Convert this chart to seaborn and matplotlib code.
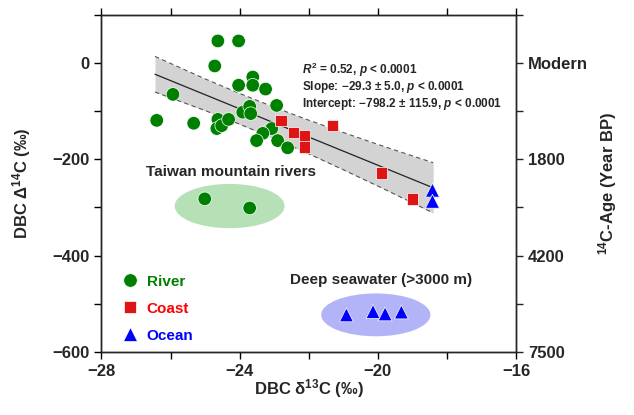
import numpy as np
import pandas as pd
import matplotlib
matplotlib.use("Agg")
import matplotlib.pyplot as plt
from matplotlib.patches import Ellipse
import seaborn as sns

# ---------------- data ----------------
river_x = [-24.63, -24.03, -24.72, -25.93, -23.62, -24.03, -23.62, -23.25, -22.93,
           -26.40, -25.33, -24.63, -24.66, -24.52, -24.32, -23.91, -23.71, -23.68,
           -23.07, -23.33, -23.51, -22.90, -22.61, -25.01, -23.71]
river_y = [46, 46, -6, -65, -29, -46, -46, -54, -88,
           -119, -125, -117, -136, -130, -117, -102, -90, -105,
           -136, -146, -161, -161, -176, -282, -301]
coast_x = [-22.81, -22.44, -22.12, -22.12, -21.31, -19.89, -19.00]
coast_y = [-119, -144, -151, -174, -130, -228, -282]
ocean_x = [-18.42, -18.42, -20.91, -20.14, -19.79, -19.32]
ocean_y = [-264, -287, -523, -516, -521, -517]

# regression statistics (as annotated) and confidence band
slope, intercept = -29.3, -798.2
fit_x = [-26.45, -18.4]
band_x = [-26.45, -25, -24, -23, -22, -21, -20, -19, -18.4]
band_upper = [13.8, -32.8, -63.1, -91.7, -118.6, -144.2, -168.9, -192.8, -206.9]
band_lower = [-60.2, -98.6, -126.9, -156.9, -188.6, -221.6, -255.5, -290.2, -311.3]

# group ellipses (center x, center y, width, height)
river_ell = (-24.29, -297, 3.18, 92)
ocean_ell = (-20.06, -523, 3.16, 89)

# ticks
x_major = [-28, -24, -20, -16]
x_minor = [-26, -22, -18]
y_major = [-600, -400, -200, 0]
y_minor = [-500, -300, -100, 100]
age_labels = ["7500", "4200", "1800", "Modern"]

groups = ["River", "Coast", "Ocean"]
colors = {"River": "#008000", "Coast": "#dd1515", "Ocean": "#0000ff"}
text_colors = {"River": "#008000", "Coast": "#ff0000", "Ocean": "#0000ff"}

stats_text = ("$R^2$ = 0.52, $p$ < 0.0001\n"
              "Slope: −29.3 ± 5.0, $p$ < 0.0001\n"
              "Intercept: −798.2 ± 115.9, $p$ < 0.0001")

df = pd.DataFrame({
    "x": river_x + coast_x + ocean_x,
    "y": river_y + coast_y + ocean_y,
    "group": ["River"] * len(river_x) + ["Coast"] * len(coast_x) + ["Ocean"] * len(ocean_x),
})

# ---------------- style ----------------
sns.set_style("ticks")
plt.rcParams["font.family"] = ["Liberation Sans", "DejaVu Sans"]
plt.rcParams["font.weight"] = "bold"
plt.rcParams["mathtext.fontset"] = "custom"
plt.rcParams["mathtext.rm"] = "Liberation Sans:bold"
plt.rcParams["mathtext.it"] = "Liberation Sans:italic:bold"
plt.rcParams["mathtext.bf"] = "Liberation Sans:bold"
plt.rcParams["axes.unicode_minus"] = True

fig = plt.figure(figsize=(6.34, 4.15), dpi=100)
ax = fig.add_axes([0.160, 0.152, 0.654, 0.812])

# ellipses
for (cx, cy, w, h), fc in [(river_ell, "#b6e0b6"), (ocean_ell, "#b3b3f7")]:
    ax.add_patch(Ellipse((cx, cy), w, h, facecolor=fc, edgecolor="none", zorder=1))

# confidence band and regression line
ax.fill_between(band_x, band_lower, band_upper, color="#d3d3d3", zorder=1.5, lw=0)
ax.plot(band_x, band_upper, ls=(0, (4, 3)), color="#555555", lw=0.8, zorder=1.6)
ax.plot(band_x, band_lower, ls=(0, (4, 3)), color="#555555", lw=0.8, zorder=1.6)
fx = np.array(fit_x)
ax.plot(fx, intercept + slope * fx, color="#222222", lw=0.9, zorder=1.7)

# points
sns.scatterplot(data=df, x="x", y="y", hue="group", style="group",
                hue_order=groups, style_order=groups, palette=colors,
                markers={"River": "o", "Coast": "s", "Ocean": "^"},
                size="group", sizes={"River": 95, "Coast": 70, "Ocean": 100},
                edgecolor="white", linewidth=0.5, ax=ax, zorder=3, legend=True)

# legend
handles, labels = ax.get_legend_handles_labels()
hmap = dict(zip(labels, handles))
leg = ax.legend([hmap[g] for g in groups], groups, loc="lower left",
                bbox_to_anchor=(0.01, 0.0), frameon=False, fontsize=11,
                handletextpad=0.1, labelspacing=0.85, borderaxespad=0.2)
for txt, g in zip(leg.get_texts(), groups):
    txt.set_color(text_colors[g])
    txt.set_fontweight("bold")

# annotations (one multi-line text block)
ax.text(-22.2, -48, stats_text, fontsize=8.5, fontweight="bold", ha="left",
        va="center", linespacing=1.05)
ax.text(-24.25, -226, "Taiwan mountain rivers", fontsize=11, fontweight="bold",
        ha="center", va="center")
ax.text(-19.92, -450, "Deep seawater (>3000 m)", fontsize=11, fontweight="bold",
        ha="center", va="center")

# axes
ax.set_xlim(-28, -16)
ax.set_ylim(-600, 100)
ax.set_xticks(x_major)
ax.set_xticks(x_minor, minor=True)
ax.set_yticks(y_major)
ax.set_yticks(y_minor, minor=True)
ax.tick_params(which="both", direction="out", length=5, width=1, color="black",
               labelsize=12, top=True, bottom=True, left=True, right=False)
for lab in ax.get_xticklabels() + ax.get_yticklabels():
    lab.set_fontweight("bold")
ax.set_xlabel("DBC δ$^{13}$C (‰)", fontsize=12, fontweight="bold", labelpad=-1)
ax.set_ylabel("DBC Δ$^{14}$C (‰)", fontsize=12, fontweight="bold", labelpad=14)
for s in ax.spines.values():
    s.set_visible(True)
    s.set_linewidth(1)
    s.set_color("black")

ax2 = ax.twinx()
ax2.set_ylim(ax.get_ylim())
ax2.set_yticks(y_major)
ax2.set_yticklabels(age_labels)
ax2.set_yticks(y_minor, minor=True)
ax2.tick_params(which="both", direction="out", length=5, width=1, labelsize=12)
for lab in ax2.get_yticklabels():
    lab.set_fontweight("bold")
ax2.set_ylabel("$^{14}$C-Age (Year BP)", fontsize=12, fontweight="bold", labelpad=6)
for s in ax2.spines.values():
    s.set_linewidth(1)

fig.savefig("out.png", dpi=100)
